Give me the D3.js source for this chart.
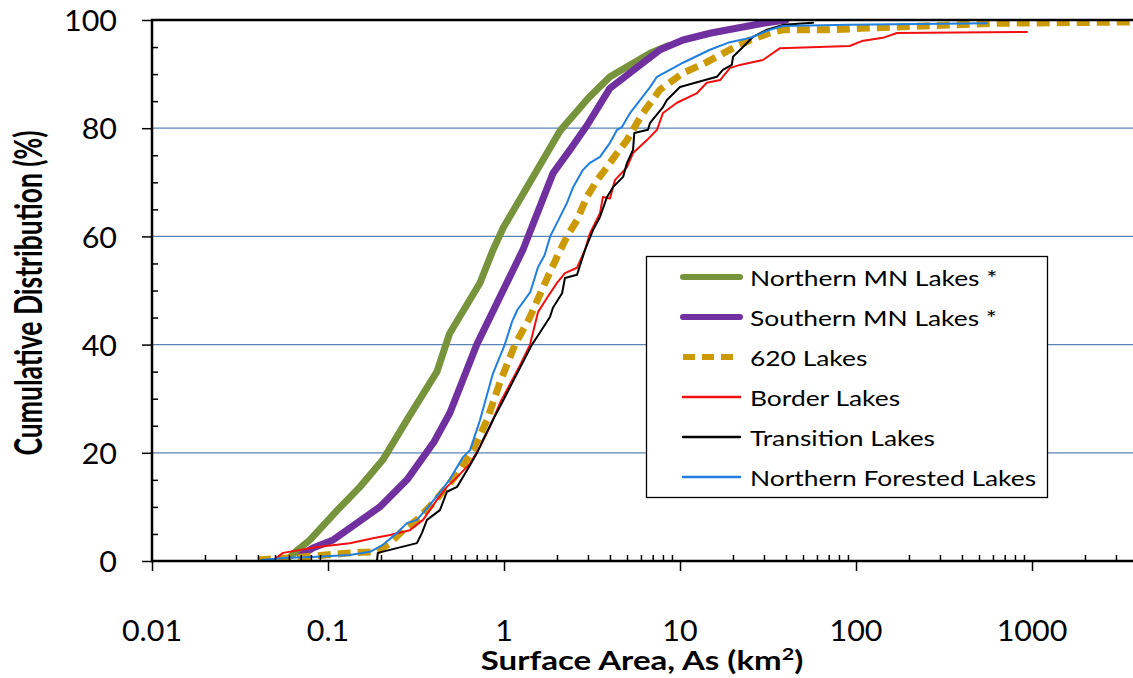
<!DOCTYPE html>
<html>
<head>
<meta charset="utf-8">
<script src="https://cdn.jsdelivr.net/npm/d3@7"></script>
<style>
  html, body { margin: 0; padding: 0; background: #fff; }
  svg { display: block; }
  text { font-family: Lato, "Noto Sans", sans-serif; fill: #000; }
</style>
</head>
<body>
<svg id="chart" width="1133" height="678"></svg>
<script>
// Series: [surface area (km²), cumulative %]
const seriesNames = ["Northern MN Lakes *", "Southern MN Lakes *", "620 Lakes", "Border Lakes", "Transition Lakes", "Northern Forested Lakes"];

const northernMN = [[0.062,1.0],[0.067,2.0],[0.079,3.9],[0.113,9.4],[0.152,13.7],[0.205,18.7],[0.28,26],[0.416,35],[0.49,42],[0.73,51.4],[0.866,57.5],[0.99,61.6],[2.08,79.5],[3.0,85.5],[4.0,89.5],[6.8,93.9],[8.5,95.2]];
const southernMN = [[0.07,1.0],[0.082,2.4],[0.107,3.9],[0.197,10],[0.281,15],[0.40,22],[0.493,27.4],[0.70,40],[1.28,57.5],[1.9,71.7],[2.37,76],[2.96,80.5],[4.0,87.4],[7.7,94.5],[10.4,96.3],[15,97.6],[29.6,99.4],[40,100]];
const lakes620 = [[0.04,0.2],[0.069,0.7],[0.133,1.5],[0.19,1.7],[0.225,3.3],[0.267,5.7],[0.32,7.6],[0.395,10.7],[0.474,13.7],[0.562,16.8],[0.667,20.5],[0.80,26],[0.948,33],[1.155,40],[1.406,45.1],[1.667,50.6],[2.0,56.2],[2.28,60],[2.6,63],[2.96,67.3],[3.38,70.4],[3.85,72.8],[4.39,75.4],[5.0,77.8],[5.41,79.7],[6.16,82.8],[7.69,87.1],[10.4,90.2],[14.2,92.2],[19.2,94.5],[25,96.3],[32.4,97.6],[38.5,98.2],[74,98.2],[115,98.5],[527,99.3],[658,99.4],[6000,99.7]];
const borderLakes = [[0.05,0.4],[0.0555,1.5],[0.087,2.6],[0.133,3.3],[0.18,4.2],[0.225,4.8],[0.292,5.7],[0.347,7.6],[0.416,11.3],[0.474,13.7],[0.541,15.5],[0.641,18],[0.731,21.1],[0.832,24.8],[0.948,29.2],[1.233,36.2],[1.406,40],[1.56,46],[1.754,48.6],[2.0,51.4],[2.22,53.2],[2.6,54.2],[2.885,57.5],[3.08,60.6],[3.51,64.3],[3.65,67.3],[4.0,67.0],[4.27,70.4],[5.0,72.8],[5.41,75.4],[6.49,77.8],[7.4,79.7],[8.0,82.8],[9.61,84.7],[12.5,86.5],[14.2,88.4],[16.9,88.9],[19.2,91.1],[21.9,91.7],[25,92.1],[29.6,92.6],[37,94.8],[92,95.2],[108,96.1],[142,96.7],[171,97.6],[937,97.8]];
const transitionLakes = [[0.19,0.2],[0.192,1.5],[0.32,3.3],[0.342,5.2],[0.365,7.6],[0.4325,9.4],[0.474,12.8],[0.541,13.7],[0.641,17.7],[0.703,20],[0.76,22.4],[0.866,26.1],[0.948,28.5],[1.442,40],[1.54,41.4],[1.825,45.1],[1.897,46.8],[2.138,49.5],[2.22,52.3],[2.6,52.9],[2.885,57.5],[3.21,61.2],[3.51,63.6],[3.85,67.3],[4.16,69.1],[4.75,71],[5.0,73.6],[5.41,76],[5.5,79.1],[6.58,79.7],[6.76,81],[8.0,83.9],[8.43,85.2],[10,87.6],[12.5,88.5],[16.2,89.5],[17.5,90.8],[19.7,91.7],[20,93.2],[22.8,95],[26,96.9],[31.2,98.2],[38.5,99.1],[57,99.5]];
const forestedLakes = [[0.042,0.2],[0.0555,0.55],[0.087,0.8],[0.133,1.1],[0.173,1.7],[0.205,3.0],[0.247,5.2],[0.281,7.0],[0.32,7.6],[0.38,10.4],[0.43,12.6],[0.49,15],[0.585,19.2],[0.641,20.5],[0.73,26],[0.866,34.7],[1.01,40],[1.11,44.2],[1.19,46.4],[1.41,49.7],[1.56,54.3],[1.7,56.5],[1.83,60],[2.08,63.6],[2.28,66.2],[2.47,69.1],[2.81,72.3],[3.08,73.6],[3.51,74.7],[4.0,77.3],[4.39,79.7],[4.68,80.2],[5.2,82.8],[6.76,87.6],[7.4,89.5],[10.4,92.1],[14.8,94.5],[19.2,95.9],[25,96.7],[32.4,98.2],[38.5,98.9],[92,99.1],[555,99.4]];

const xTickValues = [0.01, 0.1, 1, 10, 100, 1000, 10000];
const xTickLabels = ["0.01", "0.1", "1", "10", "100", "1000", "10000"];
const yTickValues = [0, 20, 40, 60, 80, 100];
const yGridValues = [20, 40, 60, 80];

const styles = [
  { color: "#77933C", width: 7, dash: null },
  { color: "#7030A0", width: 7, dash: null },
  { color: "#CC9A06", width: 7, dash: "13,7" },
  { color: "#F01010", width: 2, dash: null },
  { color: "#000000", width: 2, dash: null },
  { color: "#1F7FE0", width: 2, dash: null }
];
const allSeries = [northernMN, southernMN, lakes620, borderLakes, transitionLakes, forestedLakes];

const svg = d3.select("#chart");
const plotLeft = 152, plotTop = 20, plotBottom = 561, plotRight = 1208;

const x = d3.scaleLog().domain([0.01, 10000]).range([plotLeft, plotRight]);
const y = d3.scaleLinear().domain([0, 100]).range([plotBottom, plotTop]);

// clip for the plotting area
svg.append("defs").append("clipPath").attr("id", "plotClip")
  .append("rect").attr("x", plotLeft).attr("y", plotTop)
  .attr("width", plotRight - plotLeft).attr("height", plotBottom - plotTop);

// horizontal gridlines
svg.append("g").selectAll("line").data(yGridValues).join("line")
  .attr("x1", plotLeft).attr("x2", plotRight)
  .attr("y1", d => y(d)).attr("y2", d => y(d))
  .attr("stroke", "#5A84B4").attr("stroke-width", 1.2);

// series lines
const line = d3.line().x(d => x(d[0])).y(d => y(d[1]));
const lines = svg.append("g").attr("clip-path", "url(#plotClip)");
allSeries.forEach((s, i) => {
  lines.append("path").datum(s)
    .attr("d", line)
    .attr("fill", "none")
    .attr("stroke", styles[i].color)
    .attr("stroke-width", styles[i].width)
    .attr("stroke-linejoin", "round")
    .attr("stroke-linecap", styles[i].dash ? "butt" : "round")
    .attr("stroke-dasharray", styles[i].dash);
});

// plot border
svg.append("rect").attr("x", plotLeft).attr("y", plotTop)
  .attr("width", plotRight - plotLeft).attr("height", plotBottom - plotTop)
  .attr("fill", "none").attr("stroke", "#000").attr("stroke-width", 2.5);

// x axis: major ticks outward, minor ticks inward
const minorX = [];
for (let e = -2; e < 4; e++) for (let m = 2; m <= 9; m++) minorX.push(m * Math.pow(10, e));

const xMajor = svg.append("g").attr("transform", `translate(0,${plotBottom})`)
  .call(d3.axisBottom(x).tickValues(xTickValues).tickSize(10).tickFormat(""));
const xMinor = svg.append("g").attr("transform", `translate(0,${plotBottom})`)
  .call(d3.axisBottom(x).tickValues(minorX).tickSize(-6).tickFormat(""));
[xMajor, xMinor].forEach(g => {
  g.select(".domain").remove();
  g.selectAll("line").attr("stroke", "#000").attr("stroke-width", 1.5);
});

// y axis
const minorY = d3.range(5, 100, 5).filter(v => v % 20 !== 0);
const yMajor = svg.append("g").attr("transform", `translate(${plotLeft},0)`)
  .call(d3.axisLeft(y).tickValues(yTickValues).tickSize(10).tickFormat(""));
const yMinor = svg.append("g").attr("transform", `translate(${plotLeft},0)`)
  .call(d3.axisLeft(y).tickValues(minorY).tickSize(-6).tickFormat(""));
[yMajor, yMinor].forEach(g => {
  g.select(".domain").remove();
  g.selectAll("line").attr("stroke", "#000").attr("stroke-width", 1.5);
});

// tick labels (text is drawn slightly widened)
const tickScale = 1.05;
svg.append("g").selectAll("text").data(yTickValues).join("text")
  .attr("transform", d => `translate(117,${y(d)}) scale(${tickScale},1)`)
  .attr("text-anchor", "end").attr("dominant-baseline", "central")
  .style("font-size", "29px")
  .text(d => d);

svg.append("g").selectAll("text").data(xTickValues.filter(v => x(v) < 1133)).join("text")
  .attr("transform", d => `translate(${x(d)},630) scale(${tickScale},1)`)
  .attr("text-anchor", "middle").attr("dominant-baseline", "central")
  .style("font-size", "29px")
  .text(d => xTickLabels[xTickValues.indexOf(d)]);

// axis titles
const xTitle = svg.append("text")
  .attr("transform", "translate(642,670) scale(1.27,1)")
  .attr("text-anchor", "middle")
  .style("font-size", "26px").style("font-weight", "bold");
xTitle.append("tspan").text("Surface Area, As (km");
xTitle.append("tspan").attr("dy", -10).style("font-size", "17px").text("2");
xTitle.append("tspan").attr("dy", 10).text(")");

svg.append("text")
  .attr("transform", "translate(42,293) rotate(-90) scale(1,1.42)")
  .attr("text-anchor", "middle")
  .style("font-size", "26.5px").style("font-weight", "bold")
  .text("Cumulative Distribution (%)");

// legend
const legend = svg.append("g");
legend.append("rect").attr("x", 646.5).attr("y", 256.5).attr("width", 401).attr("height", 241)
  .attr("fill", "#fff").attr("stroke", "#000").attr("stroke-width", 1.3);
seriesNames.forEach((name, i) => {
  const cy = 277 + i * 40;
  legend.append("line").attr("x1", 683).attr("x2", 740).attr("y1", cy).attr("y2", cy)
    .attr("stroke", styles[i].color)
    .attr("stroke-width", styles[i].width === 7 ? 6 : 2.5)
    .attr("stroke-linecap", styles[i].dash ? "butt" : "round")
    .attr("stroke-dasharray", styles[i].dash ? "12,7" : null);
  legend.append("text")
    .attr("transform", `translate(750,${cy}) scale(1.2,1)`)
    .attr("dominant-baseline", "central")
    .style("font-size", "22px")
    .text(name);
});
</script>
</body>
</html>
